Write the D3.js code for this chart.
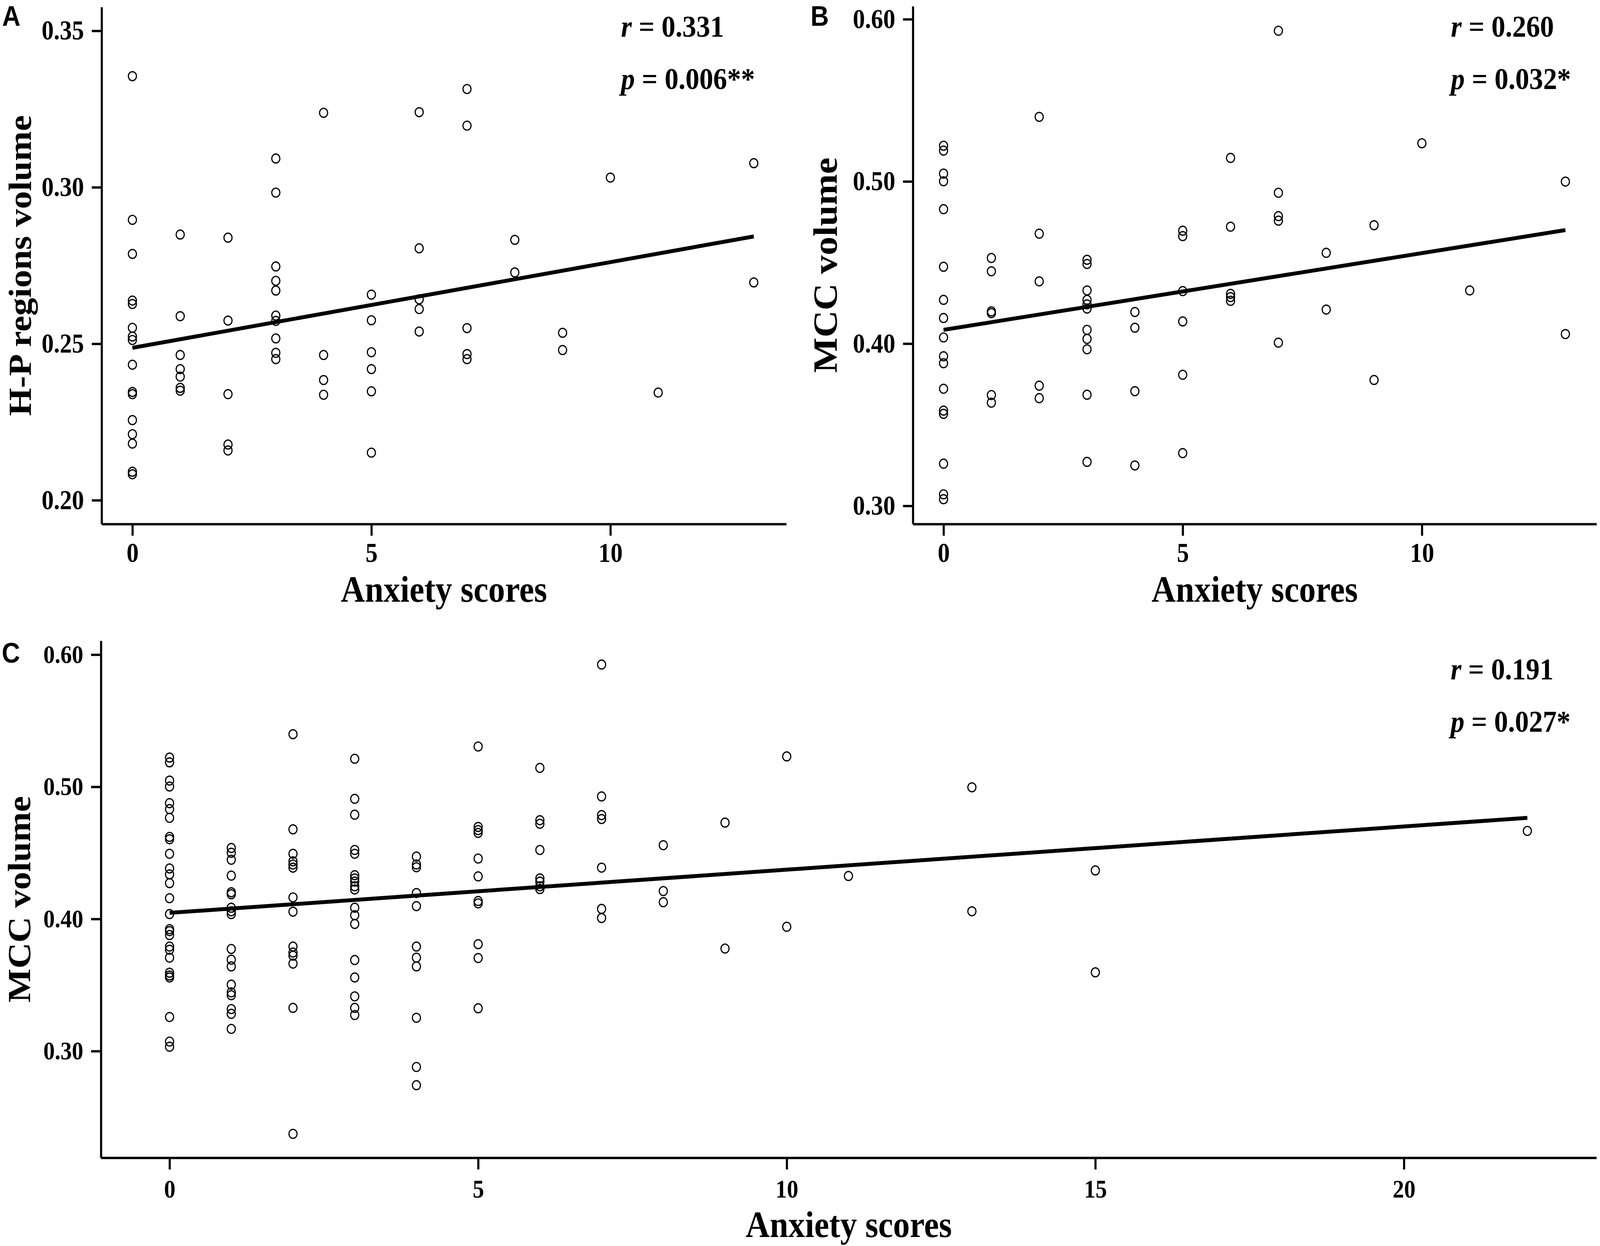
<!DOCTYPE html>
<html>
<head>
<meta charset="utf-8">
<script src="https://cdn.jsdelivr.net/npm/d3@7"></script>
<style>
  html, body { margin: 0; padding: 0; background: #fff; overflow: hidden; width: 100%; height: 100%; }
  svg { display: block; width: 100vw; height: 100vh; }
</style>
</head>
<body>
<script>
// ---------------- DATA ----------------
// Panel A: Anxiety score -> H-P regions volume
const scoresA = [0, 1, 2, 3, 4, 5, 6, 7, 8, 9, 10, 11, 13];
const volumesA = [
  [0.3355, 0.2896, 0.2787, 0.2638, 0.2627, 0.2551, 0.2523, 0.2512, 0.2433, 0.2346, 0.2339, 0.2256, 0.2211, 0.2181, 0.2091, 0.2083],
  [0.2849, 0.2588, 0.2464, 0.2419, 0.2395, 0.2359, 0.2350],
  [0.2839, 0.2574, 0.2339, 0.2178, 0.2159],
  [0.3092, 0.2983, 0.2747, 0.2701, 0.2670, 0.2590, 0.2573, 0.2517, 0.2471, 0.2451],
  [0.3238, 0.2464, 0.2384, 0.2337],
  [0.2657, 0.2575, 0.2473, 0.2419, 0.2348, 0.2152],
  [0.3240, 0.2805, 0.2642, 0.2611, 0.2539],
  [0.3314, 0.3197, 0.2550, 0.2467, 0.2451],
  [0.2832, 0.2728],
  [0.2535, 0.2480],
  [0.3031],
  [0.2344],
  [0.3077, 0.2696]
];
const fitA = [[0, 0.2487], [13, 0.2843]];
const statsA = ["0.331", "0.006**"];

// Panel B: Anxiety score -> MCC volume
const scoresB = [0, 1, 2, 3, 4, 5, 6, 7, 8, 9, 10, 11, 13];
const volumesB = [
  [0.5220, 0.5190, 0.5048, 0.5001, 0.4829, 0.4474, 0.4270, 0.4158, 0.4038, 0.3922, 0.3879, 0.3722, 0.3587, 0.3567, 0.3260, 0.3071, 0.3041],
  [0.4528, 0.4446, 0.4199, 0.4188, 0.3683, 0.3636],
  [0.5398, 0.4678, 0.4384, 0.3741, 0.3664],
  [0.4517, 0.4491, 0.4328, 0.4270, 0.4242, 0.4216, 0.4085, 0.4029, 0.3965, 0.3685, 0.3271],
  [0.4195, 0.4098, 0.3707, 0.3249],
  [0.4696, 0.4663, 0.4324, 0.4137, 0.3808, 0.3325],
  [0.5145, 0.4721, 0.4307, 0.4287, 0.4264],
  [0.5929, 0.4930, 0.4786, 0.4758, 0.4006],
  [0.4560, 0.4210],
  [0.4730, 0.3776],
  [0.5235],
  [0.4328],
  [0.4999, 0.4059]
];
const fitB = [[0, 0.4085], [13, 0.4700]];
const statsB = ["0.260", "0.032*"];

// Panel C: Anxiety score -> MCC volume
const scoresC = [0, 1, 2, 3, 4, 5, 6, 7, 8, 9, 10, 11, 13, 15, 22];
const volumesC = [
  [0.5221, 0.5185, 0.5047, 0.5002, 0.4876, 0.4831, 0.4765, 0.4621, 0.4603, 0.4493, 0.4382, 0.4337, 0.4271, 0.4157, 0.4037, 0.3923, 0.3908, 0.3878, 0.3791, 0.3767, 0.3707, 0.3593, 0.3572, 0.3557, 0.3258, 0.3072, 0.3033],
  [0.4537, 0.4501, 0.4448, 0.4328, 0.4202, 0.4187, 0.4085, 0.4058, 0.4037, 0.3773, 0.3692, 0.3641, 0.3503, 0.3444, 0.3423, 0.3318, 0.3282, 0.3168],
  [0.5398, 0.4678, 0.4493, 0.4436, 0.4412, 0.4388, 0.4163, 0.4055, 0.3791, 0.3746, 0.3722, 0.3662, 0.3327, 0.2374],
  [0.5212, 0.4909, 0.4789, 0.4522, 0.4493, 0.4331, 0.4307, 0.4283, 0.4247, 0.4223, 0.4085, 0.4028, 0.3962, 0.3689, 0.3557, 0.3414, 0.3327, 0.3273],
  [0.4472, 0.4412, 0.4391, 0.4196, 0.4097, 0.3791, 0.3707, 0.3641, 0.3252, 0.2880, 0.2742],
  [0.5305, 0.4696, 0.4672, 0.4651, 0.4457, 0.4322, 0.4136, 0.4118, 0.3809, 0.3704, 0.3324],
  [0.5143, 0.4747, 0.4720, 0.4522, 0.4307, 0.4283, 0.4247, 0.4226],
  [0.5925, 0.4927, 0.4786, 0.4756, 0.4388, 0.4076, 0.4007],
  [0.4558, 0.4211, 0.4127],
  [0.4729, 0.3776],
  [0.5230, 0.3941],
  [0.4325],
  [0.4996, 0.4058],
  [0.4367, 0.3596],
  [0.4666]
];
const fitC = [[0, 0.4046], [22, 0.4765]];
const statsC = ["0.191", "0.027*"];

// Tick labels / axis limits
const xTicksAB = [0, 5, 10];
const xTicksC = [0, 5, 10, 15, 20];
const yTicksA = [0.20, 0.25, 0.30, 0.35];
const yTicksB = [0.30, 0.40, 0.50, 0.60];
const yTicksC = [0.30, 0.40, 0.50, 0.60];
const xDomainA = [-0.644, 13.68], yDomainA = [0.1924, 0.3576];
const xDomainB = [-0.641, 13.65], yDomainB = [0.2888, 0.608];
const xDomainC = [-1.112, 23.12], yDomainC = [0.2193, 0.6105];

const xTitle = "Anxiety scores";
const yTitleA = "H-P regions volume";
const yTitleBC = "MCC volume";

// ---------------- LAYOUT (reference pixel space 4550 x 3191) ----------------
const W = 4550, H = 3191;
const SERIF = "'Liberation Serif','Times New Roman',Times,serif";
const SANS = "'Liberation Sans',Arial,Helvetica,sans-serif";

const panels = [
  { letter: "A", letterPos: [6, 66],
    x0: 289, x1: 2236, y0: 18, y1: 1342,
    xDomain: xDomainA, yDomain: yDomainA, xTicks: xTicksAB, yTicks: yTicksA,
    scores: scoresA, vols: volumesA, fit: fitA, stats: statsA,
    statX: 1766, statY: [94, 228], tickFont: 69, xTickPad: 18,
    yTitle: yTitleA, yTitleX: 88, yTitleFont: 92, xTitleY: 1541 },
  { letter: "B", letterPos: [2305, 66],
    x0: 2596, x1: 4540, y0: 16, y1: 1342,
    xDomain: xDomainB, yDomain: yDomainB, xTicks: xTicksAB, yTicks: yTicksB,
    scores: scoresB, vols: volumesB, fit: fitB, stats: statsB,
    statX: 4126, statY: [94, 228], tickFont: 69, xTickPad: 18,
    yTitle: yTitleBC, yTitleX: 2379, yTitleFont: 96, xTitleY: 1541 },
  { letter: "C", letterPos: [5, 1697],
    x0: 287, x1: 4540, y0: 1641, y1: 2965,
    xDomain: xDomainC, yDomain: yDomainC, xTicks: xTicksC, yTicks: yTicksC,
    scores: scoresC, vols: volumesC, fit: fitC, stats: statsC,
    statX: 4125, statY: [1740, 1874], tickFont: 65, xTickPad: 26,
    yTitle: yTitleBC, yTitleX: 86, yTitleFont: 92, xTitleY: 3168 }
];

// The drawing is laid out in the reference's pixel space and stretched to fill the window.
const svg = d3.select("body").append("svg")
  .attr("viewBox", `0 0 ${W} ${H}`)
  .attr("preserveAspectRatio", "none");
svg.append("rect").attr("width", W).attr("height", H).attr("fill", "#fff");

panels.forEach(p => {
  const x = d3.scaleLinear().domain(p.xDomain).range([p.x0, p.x1]);
  const y = d3.scaleLinear().domain(p.yDomain).range([p.y1, p.y0]);
  const g = svg.append("g");

  // axes
  const xAxis = d3.axisBottom(x).tickValues(p.xTicks).tickFormat(d3.format("d"))
    .tickSizeInner(30).tickSizeOuter(0).tickPadding(p.xTickPad);
  const yAxis = d3.axisLeft(y).tickValues(p.yTicks).tickFormat(d3.format(".2f"))
    .tickSizeInner(28).tickSizeOuter(0).tickPadding(22);

  const gx = g.append("g").attr("transform", `translate(0,${p.y1})`).call(xAxis);
  const gy = g.append("g").attr("transform", `translate(${p.x0},0)`).call(yAxis);
  [gx, gy].forEach(a => {
    a.select(".domain").attr("stroke", "#000").attr("stroke-width", 6);
    a.selectAll(".tick line").attr("stroke", "#000").attr("stroke-width", 6);
    a.selectAll(".tick text").attr("fill", "#000")
      .style("font-family", SERIF).style("font-weight", "bold")
      .style("font-size", p.tickFont + "px");
  });

  // points
  const pts = [];
  p.scores.forEach((s, i) => p.vols[i].forEach(v => pts.push([s, v])));
  g.append("g").selectAll("circle").data(pts).join("circle")
    .attr("cx", d => x(d[0])).attr("cy", d => y(d[1]))
    .attr("r", 11.5).attr("fill", "none")
    .attr("stroke", "#000").attr("stroke-width", 3.2);

  // regression line
  g.append("path").datum(p.fit)
    .attr("d", d3.line().x(d => x(d[0])).y(d => y(d[1])))
    .attr("fill", "none").attr("stroke", "#000").attr("stroke-width", 10);

  // stats
  const labels = ["r", "p"];
  p.stats.forEach((val, i) => {
    const t = g.append("text").attr("x", p.statX).attr("y", p.statY[i])
      .style("font-family", SERIF).style("font-weight", "bold")
      .style("font-size", "79px").attr("fill", "#000");
    t.append("tspan").style("font-style", "italic").text(labels[i]);
    t.append("tspan").attr("xml:space", "preserve").text(" = " + val);
  });

  // axis titles
  g.append("text").attr("x", (p.x0 + p.x1) / 2).attr("y", p.xTitleY)
    .attr("text-anchor", "middle")
    .style("font-family", SERIF).style("font-weight", "bold").style("font-size", "95px")
    .text(xTitle);
  g.append("text")
    .attr("transform", `translate(${p.yTitleX},${(p.y0 + p.y1) / 2}) rotate(-90)`)
    .attr("text-anchor", "middle")
    .style("font-family", SERIF).style("font-weight", "bold").style("font-size", p.yTitleFont + "px")
    .text(p.yTitle);

  // panel letter
  g.append("text").attr("x", p.letterPos[0]).attr("y", p.letterPos[1])
    .style("font-family", SANS).style("font-weight", "bold").style("font-size", "72px")
    .text(p.letter);
});
</script>
</body>
</html>
